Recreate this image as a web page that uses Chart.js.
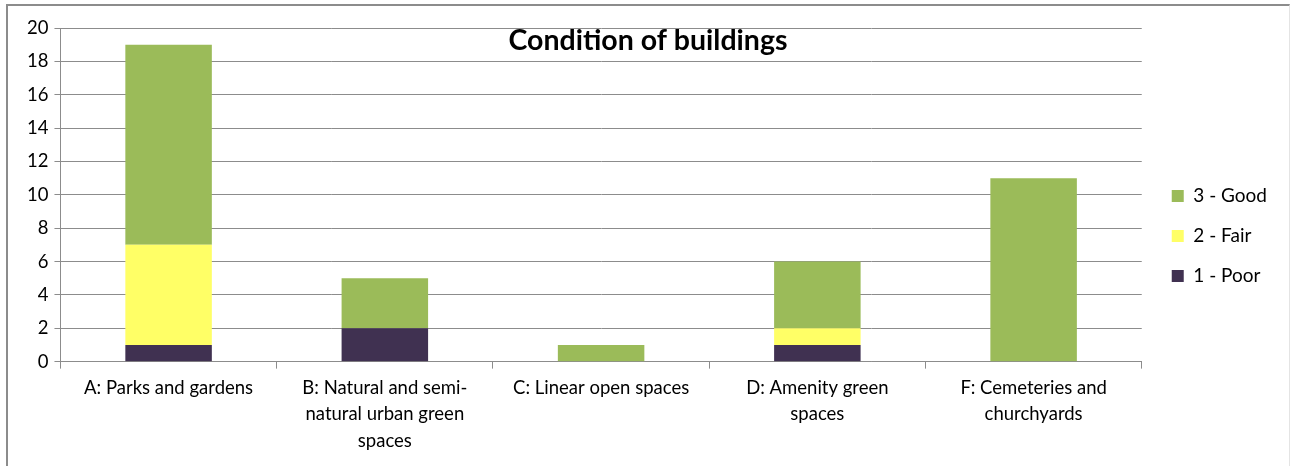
<!DOCTYPE html>
<html>
<head>
<meta charset="utf-8">
<script src="https://cdn.jsdelivr.net/npm/chart.js@4/dist/chart.umd.min.js"></script>
<style>
    body { margin: 0; background: #fff; }
    #wrap { position: relative; width: 1290px; height: 466px; overflow: hidden; }
    #frame { position: absolute; left: 6px; top: 4px; width: 1284px; height: 470px; border: 2px solid #8c8c8c; border-right: 1px solid #e4e4e4; box-sizing: border-box; }
    canvas { position: absolute; left: 0; top: 0; }
</style>
</head>
<body>
<div id="wrap">
    <div id="frame"></div>
    <canvas id="g_condicion" width="1290" height="466"></canvas>
</div>
<script>
var categorias = [
    'A: Parks and gardens',
    ['B: Natural and semi-', 'natural urban green', 'spaces'],
    'C: Linear open spaces',
    ['D: Amenity green', 'spaces'],
    ['F: Cemeteries and', 'churchyards']
];
var pobre = [1, 2, 0, 1, 0];
var regular = [6, 0, 0, 1, 0];
var bueno = [12, 3, 1, 4, 11];

var fuente = 'Lato, "Open Sans", sans-serif';

// titulo dibujado encima del area del grafico
var tituloPlugin = {
    id: 'titulo',
    afterDraw: function (chart) {
        var ctx = chart.ctx;
        ctx.save();
        ctx.font = 'bold 28.5px ' + fuente;
        ctx.fillStyle = '#000';
        ctx.textAlign = 'center';
        ctx.textBaseline = 'middle';
        ctx.fillText('Condition of buildings', 648, 41);
        ctx.restore();
    }
};

// ejes vacios solo para reservar espacio
function ejeVacio(pos, tam) {
    return {
        type: 'linear',
        position: pos,
        display: true,
        grid: { display: false },
        border: { display: false },
        ticks: { display: false },
        afterFit: function (eje) {
            if (pos === 'top') { eje.height = tam; } else { eje.width = tam; }
        }
    };
}

new Chart(document.getElementById('g_condicion'), {
    type: 'bar',
    data: {
        labels: categorias,
        datasets: [
            { label: '1 - Poor', data: pobre, backgroundColor: '#403151' },
            { label: '2 - Fair', data: regular, backgroundColor: '#FFFF66' },
            { label: '3 - Good', data: bueno, backgroundColor: '#9BBB59' }
        ]
    },
    options: {
        responsive: false,
        animation: false,
        layout: { padding: { top: 12, left: 21, right: 13, bottom: 6 } },
        datasets: { bar: { categoryPercentage: 1, barPercentage: 0.4 } },
        scales: {
            x: {
                stacked: true,
                grid: { display: true, offset: true, drawOnChartArea: false, tickLength: 7, color: '#8c8c8c', lineWidth: 1 },
                border: { color: '#8c8c8c' },
                ticks: { color: '#000', font: { family: fuente, size: 18.5, lineHeight: 1.43 }, maxRotation: 0, padding: 6 }
            },
            y: {
                stacked: true,
                min: 0,
                max: 20,
                ticks: { stepSize: 2, color: '#000', font: { family: fuente, size: 18.5 }, padding: 6 },
                grid: { color: '#8c8c8c', tickLength: 6 },
                border: { color: '#8c8c8c' }
            },
            arriba: ejeVacio('top', 16),
            derecha: ejeVacio('right', 9)
        },
        plugins: {
            legend: {
                position: 'right',
                reverse: true,
                labels: {
                    boxWidth: 12,
                    boxHeight: 12,
                    padding: 21,
                    color: '#000',
                    font: { family: fuente, size: 19 }
                }
            },
            tooltip: { enabled: false }
        }
    },
    plugins: [tituloPlugin]
});
</script>
</body>
</html>
